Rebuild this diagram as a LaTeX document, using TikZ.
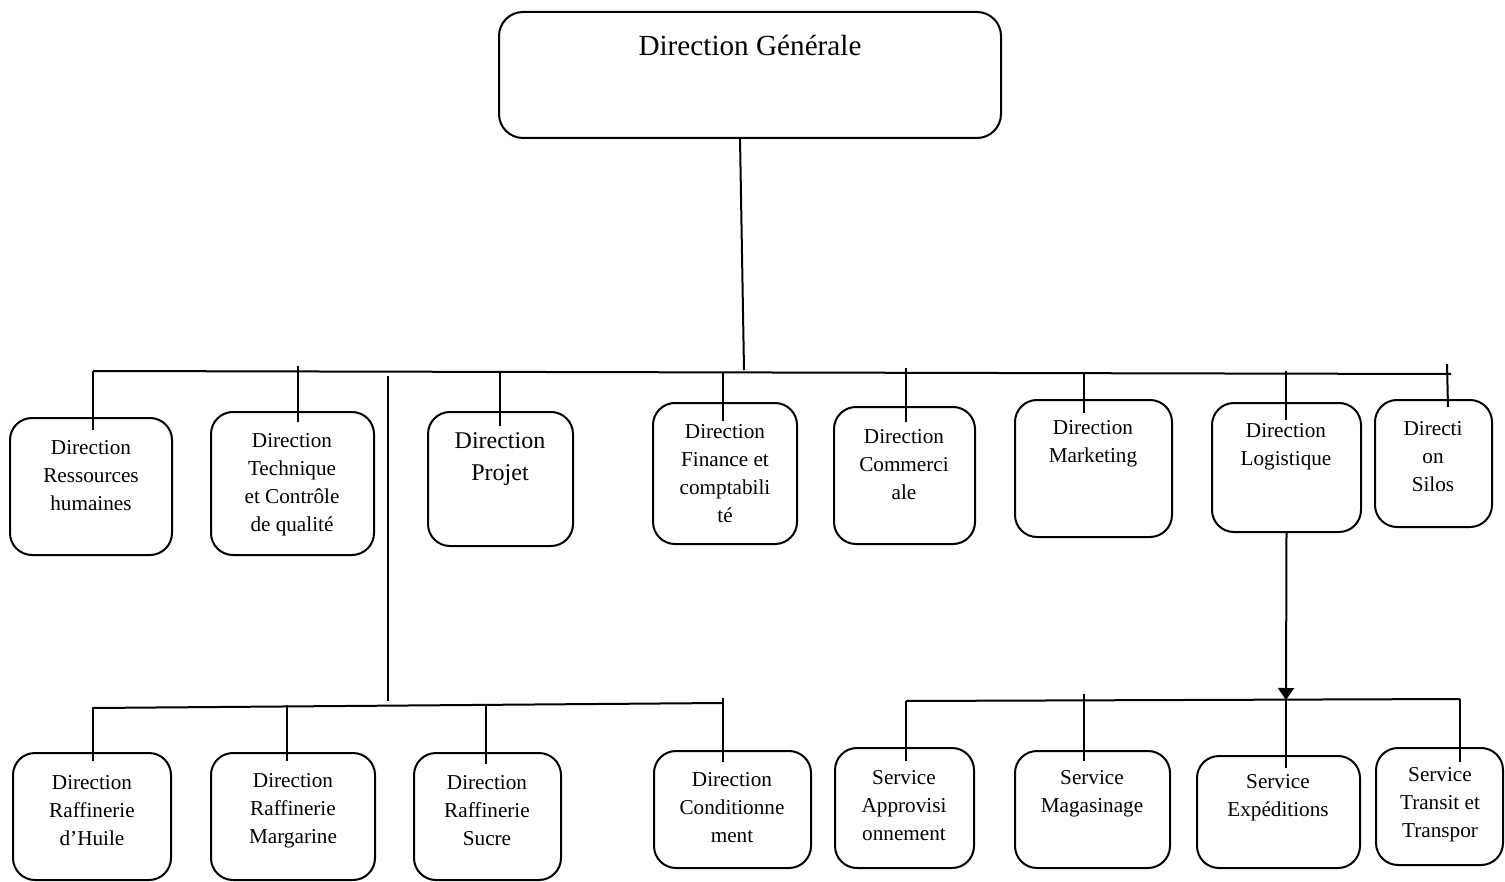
\documentclass[tikz,border=0pt]{standalone}
\usepackage{fontspec}
\setmainfont{Liberation Serif}
\usetikzlibrary{fit,arrows.meta,calc}
\begin{document}
\begin{tikzpicture}[x=0.5pt,y=-0.5pt,
  box/.style={draw, rounded corners=11pt, inner sep=0pt, line width=1pt},
  txt/.style={align=center, inner sep=0pt, font=\fontsize{10.6}{14}\selectfont},
  link/.style={line width=1pt, line cap=butt}]
\useasboundingbox (0,0) rectangle (1505,882);

% top
\node[box, rounded corners=12pt, fit={(499,12)(1001,138)}] (top) {};
\node[inner sep=0pt, font=\fontsize{14.6}{18}\selectfont] (ttop) at (750,45) {Direction Générale};

% middle row
\node[box, fit={(10,418)(172,555)}] (b1) {};
\node[box, fit={(211,412)(374,555)}] (b2) {};
\node[box, fit={(428,412)(573,546)}] (b3) {};
\node[box, fit={(653,403)(797,544)}] (b4) {};
\node[box, fit={(834,407)(975,544)}] (b5) {};
\node[box, fit={(1015,400)(1172,537)}] (b6) {};
\node[box, fit={(1212,403)(1361,532)}] (b7) {};
\node[box, fit={(1375,400)(1492,527)}] (b8) {};

\node[txt] (t1) at (91,476) {Direction\\Ressources\\humaines};
\node[txt] (t2) at (292,485) {Direction\\Technique\\et Contrôle\\de qualité};
\node[txt, font=\fontsize{12}{16}\selectfont] (t3) at (500,459) {Direction\\Projet};
\node[txt] (t4) at (725,474) {Direction\\Finance et\\comptabili\\té};
\node[txt] (t5) at (904,465) {Direction\\Commerci\\ale};
\node[txt] (t6) at (1093,444) {Direction\\Marketing};
\node[txt] (t7) at (1286,447) {Direction\\Logistique};
\node[txt] (t8) at (1433,457) {Directi\\on\\Silos};

% bottom row
\node[box, fit={(13,753)(171,880)}] (c1) {};
\node[box, fit={(211,753)(375,880)}] (c2) {};
\node[box, fit={(414,753)(561,880)}] (c3) {};
\node[box, fit={(654,751)(811,868)}] (c4) {};
\node[box, fit={(835,748)(974,868)}] (s1) {};
\node[box, fit={(1015,751)(1170,868)}] (s2) {};
\node[box, fit={(1197,756)(1360,868)}] (s3) {};
\node[box, fit={(1376,748)(1503,865)}] (s4) {};

\node[txt] (u1) at (92,811) {Direction\\Raffinerie\\d’Huile};
\node[txt] (u2) at (293,811) {Direction\\Raffinerie\\Margarine};
\node[txt] (u3) at (487,811) {Direction\\Raffinerie\\Sucre};
\node[txt] (u4) at (732,808) {Direction\\Conditionne\\ment};
\node[txt] (v1) at (904,806) {Service\\Approvisi\\onnement};
\node[txt] (v2) at (1092,794) {Service\\Magasinage};
\node[txt] (v3) at (1278,798) {Service\\Expéditions};
\node[txt] (v4) at (1440,805) {Service\\Transit et\\Transpor};

% coordinates of the buses
\coordinate (m0) at (740,138);
\coordinate (m1) at (744,370);
\coordinate (busL) at (93,371);
\coordinate (busR) at (1451,374);
\coordinate (k1) at (93,371);
\coordinate (k2) at (298,366);
\coordinate (k3) at (500,372);
\coordinate (k4) at (723,372);
\coordinate (k5) at (906,368);
\coordinate (k6) at (1084,373);
\coordinate (k7) at (1286,371);
\coordinate (k8) at (1447,364);
\coordinate (k8e) at (1448,407);
\coordinate (vA) at (388,376);
\coordinate (vB) at (388,701);
\coordinate (bus2L) at (93,708);
\coordinate (bus2R) at (723,703);
\coordinate (j1) at (93,707);
\coordinate (j2) at (287,705);
\coordinate (j3) at (486,705);
\coordinate (j4) at (723,698);
\coordinate (bus3L) at (906,701);
\coordinate (bus3R) at (1460,699);
\coordinate (arr) at (1286,700);
\coordinate (q1) at (906,701);
\coordinate (q2) at (1084,694);
\coordinate (q4) at (1460,699);

\draw[link] (m0) -- (m1);
\draw[link] (busL) -- (busR);
\draw[link] (k1) -- ($(k1 |- b1.north)+(0,13)$);
\draw[link] (k2) -- ($(k2 |- b2.north)+(0,11)$);
\draw[link] (k3) -- ($(k3 |- b3.north)+(0,15)$);
\draw[link] (k4) -- ($(k4 |- b4.north)+(0,19)$);
\draw[link] (k5) -- ($(k5 |- b5.north)+(0,16)$);
\draw[link] (k6) -- ($(k6 |- b6.north)+(0,14)$);
\draw[link] (k7) -- ($(k7 |- b7.north)+(0,18)$);
\draw[link] (k8) -- (k8e);

\draw[link] (vA) -- (vB);
\draw[link] (bus2L) -- (bus2R);
\draw[link] (j1) -- ($(j1 |- c1.north)+(0,9)$);
\draw[link] (j2) -- ($(j2 |- c2.north)+(0,9)$);
\draw[link] (j3) -- ($(j3 |- c3.north)+(0,12)$);
\draw[link] (j4) -- ($(j4 |- c4.north)+(0,12)$);

\draw[link, -{Triangle[width=8pt,length=6pt]}] (b7.south) -- (arr);
\draw[link] (bus3L) -- (bus3R);
\draw[link] (q1) -- ($(q1 |- s1.north)+(0,14)$);
\draw[link] (q2) -- ($(q2 |- s2.north)+(0,11)$);
\draw[link] (arr) -- ($(arr |- s3.north)+(0,13)$);
\draw[link] (q4) -- ($(q4 |- s4.north)+(0,15)$);
\end{tikzpicture}
\end{document}
